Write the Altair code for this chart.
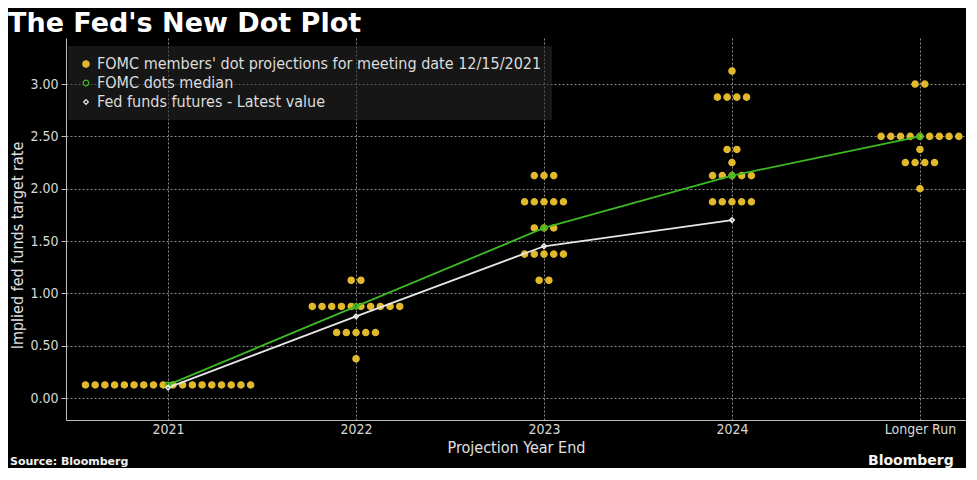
import altair as alt
import pandas as pd

# ---------------- data ----------------
years = ["2021", "2022", "2023", "2024", "Longer Run"]
dot_rates = [
    [0.125],
    [1.125, 0.875, 0.625, 0.375],
    [2.125, 1.875, 1.625, 1.375, 1.125],
    [3.125, 2.875, 2.375, 2.25, 2.125, 1.875],
    [3.0, 2.5, 2.375, 2.25, 2.0],
]
dot_counts = [
    [18],
    [2, 10, 5, 1],
    [3, 5, 3, 5, 2],
    [1, 4, 2, 1, 5, 5],
    [2, 9, 1, 4, 1],
]
median_values = [0.125, 0.875, 1.625, 2.125, 2.5]
futures_values = [0.10, 0.78, 1.45, 1.70]

TITLE = "The Fed's New Dot Plot"
SOURCE = "Source: Bloomberg"
BRAND = "Bloomberg"

S_DOTS = "FOMC members' dot projections for meeting date 12/15/2021"
S_MED = "FOMC dots median"
S_FUT = "Fed funds futures - Latest value"
SERIES = [S_DOTS, S_MED, S_FUT]

YELLOW = "#e2b92c"
GREEN = "#3cba22"
WHITE = "#e6e6e6"
FONT = "DejaVu Sans Condensed, Liberation Sans Narrow, Roboto Condensed, DejaVu Sans, sans-serif"

rows = []
for i, (rates, counts) in enumerate(zip(dot_rates, dot_counts)):
    for r, c in zip(rates, counts):
        for _ in range(c):
            rows.append({"idx": i, "rate": r, "series": S_DOTS})
dots_df = pd.DataFrame(rows)
med_df = pd.DataFrame({"idx": list(range(len(median_values))), "rate": median_values, "series": S_MED})
fut_df = pd.DataFrame({"idx": list(range(len(futures_values))), "rate": futures_values, "series": S_FUT})
all_df = pd.concat([dots_df, med_df, fut_df], ignore_index=True)

W, H = 900, 382
STEP = 0.0517  # horizontal spacing between dots in the same row (index units)

xscale = alt.Scale(domain=[-0.543, 4.245], nice=False, zero=False)
yscale = alt.Scale(domain=[-0.21, 3.44], nice=False, zero=False)
cscale = alt.Scale(domain=SERIES, range=[YELLOW, GREEN, WHITE])
fscale = alt.Scale(domain=SERIES, range=[YELLOW, "transparent", "transparent"])
shscale = alt.Scale(domain=SERIES, range=["circle", "circle", "diamond"])
szscale = alt.Scale(domain=SERIES, range=[40, 22, 22])

label_expr = "[" + ",".join("'" + y + "'" for y in years) + "][datum.value]"

xaxis = alt.Axis(
    values=list(range(len(years))), labelExpr=label_expr, title="Projection Year End",
    grid=True, gridDash=[2, 2], gridColor="#8c8c8c", gridWidth=1,
    ticks=False, domainColor="#bdbdbd", labelColor="#d8d8d8", labelFontSize=14,
    labelPadding=2, titleColor="#e0e0e0", titleFontSize=16, titleFontWeight="normal",
    titlePadding=3, labelFont=FONT, titleFont=FONT,
)
yaxis = alt.Axis(
    values=[0, 0.5, 1.0, 1.5, 2.0, 2.5, 3.0], format=".2f", title="Implied fed funds target rate",
    grid=True, gridDash=[2, 2], gridColor="#8c8c8c", gridWidth=1,
    tickColor="#bdbdbd", tickSize=5, domainColor="#bdbdbd", labelColor="#d8d8d8",
    labelFontSize=14, labelPadding=3, titleColor="#e0e0e0", titleFontSize=16,
    titleFontWeight="normal", titleX=-49, titleY=207, titleBaseline="middle", titleAngle=270,
    labelFont=FONT, titleFont=FONT,
)

legend = alt.Legend(
    title=None, orient="none", legendX=2, legendY=8, padding=10, fillColor="rgba(40,40,40,0.55)",
    labelColor="#dcdcdc", labelFontSize=16, labelFont=FONT, labelOffset=3,
    labelLimit=600, symbolStrokeWidth=1.2, symbolOpacity=1,
)

points = (
    alt.Chart(all_df)
    .transform_window(k="row_number()", groupby=["series", "idx", "rate"])
    .transform_joinaggregate(n="count()", groupby=["series", "idx", "rate"])
    .transform_calculate(xp=f"datum.idx + (datum.k - (datum.n + 1) / 2) * {STEP}")
    .mark_point(filled=False, strokeWidth=1.2, opacity=1)
    .encode(
        x=alt.X("xp:Q", scale=xscale, axis=xaxis),
        y=alt.Y("rate:Q", scale=yscale, axis=yaxis),
        color=alt.Color("series:N", scale=cscale, legend=legend),
        fill=alt.Fill("series:N", scale=fscale, legend=legend),
        shape=alt.Shape("series:N", scale=shscale, legend=legend),
        size=alt.Size("series:N", scale=szscale, legend=legend),
    )
)

med_line = alt.Chart(med_df).mark_line(strokeWidth=1.8).encode(
    x=alt.X("idx:Q", scale=xscale), y=alt.Y("rate:Q", scale=yscale),
    color=alt.Color("series:N", scale=cscale, legend=None),
)
fut_line = alt.Chart(fut_df).mark_line(strokeWidth=1.8).encode(
    x=alt.X("idx:Q", scale=xscale), y=alt.Y("rate:Q", scale=yscale),
    color=alt.Color("series:N", scale=cscale, legend=None),
)
med_pts = alt.Chart(med_df).mark_point(shape="circle", size=22, filled=False, strokeWidth=1.2, opacity=1).encode(
    x=alt.X("idx:Q", scale=xscale), y=alt.Y("rate:Q", scale=yscale),
    color=alt.Color("series:N", scale=cscale, legend=None),
)
fut_pts = alt.Chart(fut_df).mark_point(shape="diamond", size=22, filled=False, strokeWidth=1.2, opacity=1).encode(
    x=alt.X("idx:Q", scale=xscale), y=alt.Y("rate:Q", scale=yscale),
    color=alt.Color("series:N", scale=cscale, legend=None),
)

title_txt = alt.Chart(pd.DataFrame({"t": [TITLE]})).mark_text(
    align="left", baseline="alphabetic", font="DejaVu Sans", fontWeight="bold", fontSize=27, color="#ffffff"
).encode(x=alt.value(-58), y=alt.value(-6), text="t:N")

source_txt = alt.Chart(pd.DataFrame({"t": [SOURCE]})).mark_text(
    align="left", baseline="middle", font="DejaVu Sans", fontWeight="bold", fontSize=11, color="#f0f0f0"
).encode(x=alt.value(-56), y=alt.value(424), text="t:N")

brand_txt = alt.Chart(pd.DataFrame({"t": [BRAND]})).mark_text(
    align="left", baseline="middle", font="DejaVu Sans", fontWeight="bold", fontSize=14, color="#f5f5f5"
).encode(x=alt.value(802), y=alt.value(423), text="t:N")

chart = (
    alt.layer(points, med_line, fut_line, med_pts, fut_pts, title_txt, source_txt, brand_txt)
    .properties(
        width=W, height=H,
        background="#000000",
        padding={"left": 58, "top": 30, "right": 0, "bottom": 48},
        autosize=alt.AutoSizeParams(type="none"),
    )
    .configure_view(stroke=None)
    .configure_legend(rowPadding=3)
)

chart.save("out.html", embed_options={"renderer": "svg", "actions": False})
